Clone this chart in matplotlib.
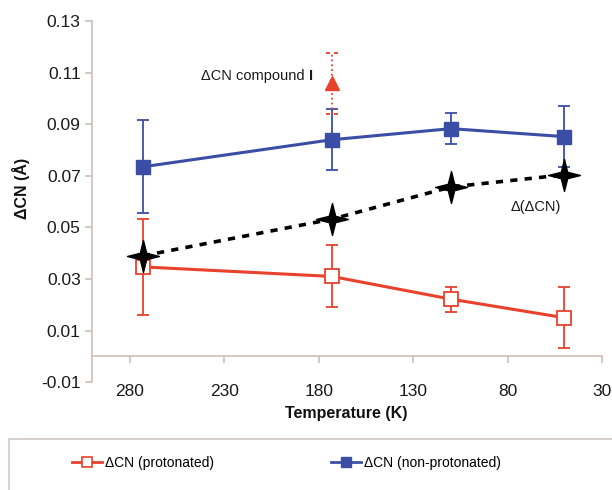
import numpy as np
import matplotlib
matplotlib.use("Agg")
import matplotlib.pyplot as plt
from matplotlib.path import Path
from matplotlib.patches import Rectangle
from matplotlib.lines import Line2D

plt.rcParams['font.family'] = ['Liberation Sans', 'DejaVu Sans']

# data
temps = [273, 173, 110, 50]
cn_prot = [0.0347, 0.0310, 0.0222, 0.0150]
cn_prot_err = [0.0185, 0.0120, 0.0048, 0.0118]
cn_nonprot = [0.0735, 0.0840, 0.0883, 0.0852]
cn_nonprot_err = [0.0180, 0.0118, 0.0060, 0.0117]
d_dcn = [0.0390, 0.0532, 0.0657, 0.0704]
comp_t = [173]
comp_cn = [0.1058]
comp_err = [0.0120]
xticks = [280, 230, 180, 130, 80, 30]
yticks = [-0.01, 0.01, 0.03, 0.05, 0.07, 0.09, 0.11, 0.13]

red = '#e8412c'
blue = '#3b4ea6'
axcol = '#cdbfb8'

# 4 pointed star marker
s = 0.2
star = Path([(0, 1), (s, s), (1, 0), (s, -s), (0, -1), (-s, -s), (-1, 0), (-s, s), (0, 1)],
            [Path.MOVETO] + [Path.LINETO] * 7 + [Path.CLOSEPOLY])
# dotted cap (two short dashes)
dotcap = Path([(-1, 0), (-0.35, 0), (0.35, 0), (1, 0)],
              [Path.MOVETO, Path.LINETO, Path.MOVETO, Path.LINETO])

fig = plt.figure(figsize=(6.12, 4.9), dpi=100)
ax = fig.add_axes([0.150, 0.220, 0.834, 0.737])

ax.errorbar(temps, cn_nonprot, yerr=cn_nonprot_err, color=blue, lw=2.2, marker='s',
            ms=10, mfc=blue, mec=blue, ecolor=blue, elinewidth=1.3, capsize=4, capthick=1.3, zorder=3)
ax.errorbar(temps, cn_prot, yerr=cn_prot_err, color=red, lw=2.2, marker='s',
            ms=10, mfc='white', mec=red, mew=1.3, ecolor=red, elinewidth=1.3, capsize=4,
            capthick=1.3, zorder=3)
ax.plot(temps, d_dcn, color='black', lw=2.6, ls=(0, (2, 2)), marker=star, ms=23,
        mfc='black', mec='black', zorder=5)

eb = ax.errorbar(comp_t, comp_cn, yerr=comp_err, color=red, marker='^', ms=10,
                 ecolor=red, elinewidth=1.3, capsize=4, capthick=1.3, ls='none', zorder=4)
eb[2][0].set_linestyle(':')
for c in eb[1]:
    c.set_marker(dotcap)
    c.set_markersize(9)

ax.text(0.425, 0.849, 'ΔCN compound ', transform=ax.transAxes, ha='right', va='center',
        fontsize=10.5, color='#1a1a1a')
ax.text(0.425, 0.849, 'I', transform=ax.transAxes, ha='left', va='center',
        fontsize=10.5, fontweight='bold', color='#1a1a1a')
ax.text(0.82, 0.485, 'Δ(ΔCN)', transform=ax.transAxes, ha='left', va='center',
        fontsize=10.5, color='#1a1a1a')

ax.set_xlim(300, 30)
ax.set_ylim(-0.01, 0.13)
ax.set_xticks(xticks)
ax.set_yticks(yticks)
ax.set_yticklabels(['%.2f' % v for v in yticks])
ax.spines['top'].set_visible(False)
ax.spines['right'].set_visible(False)
ax.spines['bottom'].set_position(('data', 0))
for sp in ['left', 'bottom']:
    ax.spines[sp].set_color(axcol)
    ax.spines[sp].set_linewidth(1.2)
ax.tick_params(axis='y', direction='out', length=5, width=1.2, color=axcol, labelsize=12.5,
               pad=3, labelcolor='#1a1a1a')
ax.tick_params(axis='x', direction='out', length=5, width=1.2, color=axcol, labelsize=12.5,
               pad=15, labelcolor='#1a1a1a')

fig.text(0.035, 0.616, 'ΔCN (Å)', rotation=90, ha='center', va='center',
         fontsize=11.5, fontweight='bold', color='#111111')
fig.text(0.565, 0.157, 'Temperature (K)', ha='center', va='center',
         fontsize=11.5, fontweight='bold', color='#111111')

# legend box
fig.patches.append(Rectangle((0.015, -0.05), 1.0, 0.154, transform=fig.transFigure,
                             fill=False, edgecolor='#d0c8c4', lw=1.2))
h1 = Line2D([], [], color=red, lw=2, marker='s', ms=7, mfc='white', mec=red, mew=1.2)
h2 = Line2D([], [], color=blue, lw=2, marker='s', ms=7, mfc=blue, mec=blue)
fig.legend([h1, h2], ['ΔCN (protonated)', 'ΔCN (non-protonated)'], ncol=2,
           loc='center left', bbox_to_anchor=(0.117, 0.055), frameon=False, fontsize=10,
           handlelength=2.2, handletextpad=0.2, columnspacing=8.4, borderpad=0,
           borderaxespad=0)

fig.savefig('out.png', dpi=100)
